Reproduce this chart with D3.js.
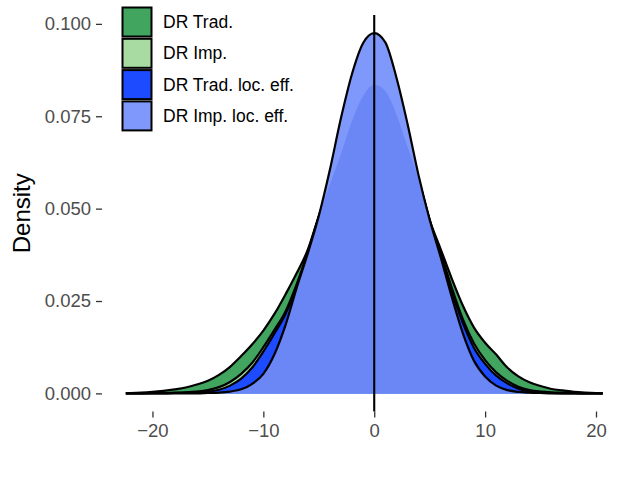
<!DOCTYPE html>
<html>
<head>
<meta charset="utf-8">
<script src="https://cdn.jsdelivr.net/npm/d3@7"></script>
<style>
  body { margin: 0; background: #fff; }
  svg { display: block; font-family: "Liberation Sans", Arial, sans-serif; }
</style>
</head>
<body>
<svg id="chart" width="638" height="482"></svg>
<script>
// density grid (x) and the four estimated densities
const xGrid = [-22.4, -22, -21, -20, -19, -18, -17, -16, -15, -14, -13, -12, -11, -10, -9, -8, -7, -6, -5, -4, -3, -2, -1,
    0, 1, 2, 3, 4, 5, 6, 7, 8, 9, 10, 11, 12, 13, 14, 15, 16, 17, 18, 19, 20, 20.6];

const drTrad = [0, 0.0001, 0.0002, 0.0004, 0.0007, 0.0011, 0.0016, 0.0024, 0.0034, 0.0050, 0.0072, 0.0101, 0.0133,
    0.0170, 0.0215, 0.0268, 0.0325, 0.0388, 0.0480, 0.0565, 0.0648, 0.0738, 0.0805,
    0.0835, 0.0818, 0.0755, 0.0667, 0.0580, 0.0470, 0.0390, 0.0310, 0.0237, 0.0178, 0.0137, 0.0105, 0.0070,
    0.0046, 0.0030, 0.0020, 0.0012, 0.0008, 0.0004, 0.0002, 0.0001, 0];

const drImp = [0, 0, 0, 0.0001, 0.0001, 0.0002, 0.0003, 0.0005, 0.0009, 0.0017, 0.0031, 0.0053, 0.0083,
    0.0125, 0.0172, 0.0222, 0.0295, 0.0382, 0.0478, 0.0570, 0.0660, 0.0750, 0.0815,
    0.0845, 0.0825, 0.0765, 0.0680, 0.0580, 0.0468, 0.0380, 0.0285, 0.0200, 0.0135, 0.0090, 0.0057, 0.0034,
    0.0018, 0.0009, 0.0005, 0.0003, 0.0002, 0.0001, 0, 0, 0];

const drTradLoc = [0, 0, 0, 0, 0, 0.0001, 0.0002, 0.0003, 0.0005, 0.0010, 0.0021, 0.0040, 0.0070,
    0.0113, 0.0162, 0.0215, 0.0288, 0.0380, 0.0475, 0.0590, 0.0710, 0.0810, 0.0880,
    0.0910, 0.0880, 0.0800, 0.0700, 0.0580, 0.0465, 0.0375, 0.0275, 0.0190, 0.0123, 0.0080, 0.0048, 0.0027,
    0.0013, 0.0006, 0.0003, 0.0001, 0, 0, 0, 0, 0];

const drImpLoc = [0, 0, 0, 0, 0, 0, 0, 0, 0.0001, 0.0002, 0.0005, 0.0011, 0.0026,
    0.0053, 0.0106, 0.0185, 0.0285, 0.0378, 0.0480, 0.0605, 0.0745, 0.0865, 0.0948,
    0.0975, 0.0950, 0.0855, 0.0730, 0.0590, 0.0470, 0.0368, 0.0260, 0.0162, 0.0088, 0.0046, 0.0021, 0.0009,
    0.0004, 0.0002, 0.0001, 0, 0, 0, 0, 0, 0];

const seriesNames = ["DR Trad.", "DR Imp.", "DR Trad. loc. eff.", "DR Imp. loc. eff."];
const seriesColors = ["#41a55f", "#a7dba1", "#1d4bff", "#7f98fb"];
const overlapColor = "#6a87f5";

const yTicks = [0, 0.025, 0.05, 0.075, 0.1];
const xTicks = [-20, -10, 0, 10, 20];

const svg = d3.select("#chart");

// panel extent, with ggplot-ish 5% expansion
const x = d3.scaleLinear().domain([-24.55, 22.75]).range([102, 626.5]);
const y = d3.scaleLinear().domain([-0.0049, 0.1024]).range([411.5, 15]);

const allSeries = [drTrad, drImp, drTradLoc, drImpLoc].map((vals, i) => ({
    name: seriesNames[i],
    color: seriesColors[i],
    points: xGrid.map((gx, j) => [gx, vals[j]])
}));

const area = d3.area()
    .x(d => x(d[0]))
    .y0(y(0))
    .y1(d => y(d[1]))
    .curve(d3.curveMonotoneX);
const line = d3.line()
    .x(d => x(d[0]))
    .y(d => y(d[1]))
    .curve(d3.curveMonotoneX);

// clip for the overlap shading inside the top layer
svg.append("defs").append("clipPath")
    .attr("id", "topClip")
  .append("path")
    .attr("d", area(allSeries[3].points));

const plot = svg.append("g");

allSeries.forEach((s, i) => {
    plot.append("path")
        .attr("d", area(s.points))
        .attr("fill", s.color);
    if (i === 3) {
        // darker where the top layer covers the DR Trad. density
        plot.append("path")
            .attr("d", area(allSeries[0].points))
            .attr("fill", overlapColor)
            .attr("clip-path", "url(#topClip)");
    }
    plot.append("path")
        .attr("d", line(s.points))
        .attr("fill", "none")
        .attr("stroke", "#000")
        .attr("stroke-width", 2.2)
        .attr("stroke-linejoin", "round");
});

// axes
const yAxis = svg.append("g")
    .attr("transform", "translate(102,0)")
    .call(d3.axisLeft(y).tickValues(yTicks).tickFormat(d3.format(".3f")).tickSize(6).tickPadding(5));
const xAxis = svg.append("g")
    .attr("transform", "translate(0,411.5)")
    .call(d3.axisBottom(x).tickValues(xTicks).tickSize(6).tickPadding(6.5));

[yAxis, xAxis].forEach(ax => {
    ax.select(".domain").remove();
    ax.selectAll(".tick line").attr("stroke", "#333").attr("stroke-width", 1.3);
    ax.selectAll(".tick text")
        .attr("fill", "#4d4d4d")
        .attr("font-size", "18.5px")
        .attr("font-family", "Liberation Sans, Arial, sans-serif");
});

// vertical line at zero
svg.append("line")
    .attr("x1", x(0)).attr("x2", x(0))
    .attr("y1", y.range()[1]).attr("y2", y.range()[0])
    .attr("stroke", "#000")
    .attr("stroke-width", 2.1);

svg.append("text")
    .attr("transform", `translate(30,${(y.range()[0] + y.range()[1]) / 2}) rotate(-90)`)
    .attr("text-anchor", "middle")
    .attr("font-size", "24px")
    .attr("fill", "#000")
    .text("Density");

// legend
const legend = svg.append("g").attr("transform", "translate(122.5,7.5)");
const items = legend.selectAll("g")
    .data(allSeries)
    .enter().append("g")
    .attr("transform", (d, i) => `translate(0,${i * 31.3})`);
items.append("rect")
    .attr("width", 29)
    .attr("height", 29)
    .attr("fill", d => d.color)
    .attr("stroke", "#000")
    .attr("stroke-width", 2);
items.append("text")
    .attr("x", 40.5)
    .attr("y", 14.5)
    .attr("dy", "0.35em")
    .attr("font-size", "17.5px")
    .attr("fill", "#000")
    .text(d => d.name);
</script>
</body>
</html>
